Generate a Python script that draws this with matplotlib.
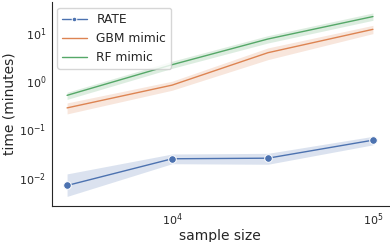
import numpy as np
import matplotlib
matplotlib.use('Agg')
from matplotlib import pyplot as plt
import seaborn as sns

sns.set_style('white')
plt.rcParams['font.family'] = ['DejaVu Sans']

sample_size = [3000, 10000, 30000, 100000]

rate_mean = [0.0069, 0.0247, 0.0254, 0.060]
rate_lo = [0.0041, 0.0195, 0.019, 0.048]
rate_hi = [0.012, 0.031, 0.032, 0.072]

gbm_mean = [0.28, 0.83, 3.9, 11.9]
gbm_lo = [0.21, 0.65, 2.8, 9.7]
gbm_hi = [0.355, 1.0, 4.9, 14.4]

rf_mean = [0.51, 2.2, 7.5, 21.9]
rf_lo = [0.42, 1.85, 6.2, 18.3]
rf_hi = [0.59, 2.6, 8.8, 26.0]

blue, orange, green = sns.color_palette('deep')[:3]

fig, ax = plt.subplots(figsize=(3.9, 2.42), dpi=100)
fig.subplots_adjust(left=0.133, right=0.997, bottom=0.149, top=0.99)

ax.plot(sample_size, rate_mean, color=blue, lw=1.0, marker='o', ms=5.5,
        markeredgecolor='white', markeredgewidth=0.7, label='RATE')
ax.fill_between(sample_size, rate_lo, rate_hi, color=blue, alpha=0.2, lw=0)
ax.plot(sample_size, gbm_mean, color=orange, lw=1.0, label='GBM mimic')
ax.fill_between(sample_size, gbm_lo, gbm_hi, color=orange, alpha=0.2, lw=0)
ax.plot(sample_size, rf_mean, color=green, lw=1.0, label='RF mimic')
ax.fill_between(sample_size, rf_lo, rf_hi, color=green, alpha=0.2, lw=0)

ax.set_xscale('log')
ax.set_yscale('log')
ax.set_xlim(2520, 120000)
ax.set_ylim(0.0026, 43)
ax.set_xlabel('sample size', fontsize=10, labelpad=1)
ax.set_ylabel('time (minutes)', fontsize=10, labelpad=2)
ax.tick_params(which='both', length=0, labelsize=8, pad=4)
leg = ax.legend(loc='upper left', fontsize=8.8, borderaxespad=0.45,
                handlelength=2.0, handletextpad=0.8, markerscale=0.6)
sns.despine(ax=ax)
for s in ['left', 'bottom']:
    ax.spines[s].set_color('#262626')

fig.savefig('out.png', dpi=100)
